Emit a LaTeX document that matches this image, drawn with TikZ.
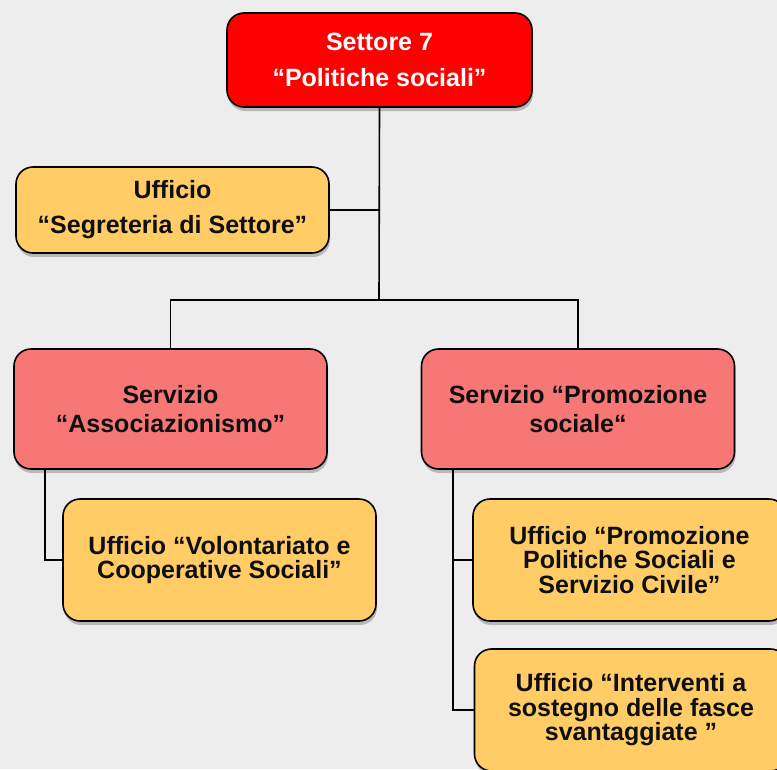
\documentclass[tikz,border=0pt]{standalone}
\usepackage{fontspec}
\setmainfont{Liberation Sans}
\usepackage{tikz}
\usetikzlibrary{shadows}
\definecolor{orgred}{RGB}{255, 0, 0}
\definecolor{orgsalmon}{RGB}{247, 119, 119}
\definecolor{orgyellow}{RGB}{255, 204, 102}
\definecolor{orgbg}{RGB}{237, 237, 237}
\definecolor{orgtext}{RGB}{15, 15, 15}
\tikzset{
    orgbox/.style={rectangle, rounded corners=17pt, draw=black, line width=1.6pt, align=center, inner sep=2pt, text=orgtext, minimum width=313pt, minimum height=122pt, drop shadow={shadow xshift=1pt, shadow yshift=-4pt, fill=black, opacity=0.22}},
    settbox/.style={orgbox, fill=orgred, text=white, minimum width=305pt, minimum height=94pt, font=\bfseries\fontsize{25}{36}\selectfont},
    segrbox/.style={orgbox, fill=orgyellow, minimum height=86pt, font=\bfseries\fontsize{25}{35}\selectfont},
    servbox/.style={orgbox, fill=orgsalmon, minimum height=120pt, font=\bfseries\fontsize{25}{28.5}\selectfont},
    uffbox/.style={orgbox, fill=orgyellow, font=\bfseries\fontsize{25}{24.5}\selectfont},
    conn/.style={line width=1.6pt, draw=black}
}
\begin{document}
\begin{tikzpicture}[x=1pt, y=-1pt]
    \fill[orgbg] (0,0) rectangle (777,769);
    \useasboundingbox (0,0) rectangle (777,769);

    \coordinate (hub) at (379,300);
    \coordinate (aleft) at (45,470);
    \coordinate (pleft) at (453,470);

    % connectors first, boxes on top
    \node[settbox] (settore) at (379.5,60) {Settore 7\\“Politiche sociali”};
    \node[segrbox] (segreteria) at (172.5,210) {Ufficio\\“Segreteria di Settore”};
    \node[servbox] (assoc) at (170.5,409) {Servizio\\“Associazionismo”};
    \node[servbox] (promo) at (578,409) {Servizio “Promozione\\sociale“};
    \node[uffbox] (volont) at (219.5,560) {Ufficio “Volontariato e\\Cooperative Sociali”};
    \node[uffbox] (polit) at (629.5,560) {Ufficio “Promozione\\Politiche Sociali e\\Servizio Civile”};
    \node[uffbox] (interv) at (631,710) {Ufficio “Interventi a\\sostegno delle fasce\\svantaggiate ”};

    \draw[conn] (settore.south) -- (hub);
    \draw[conn] (settore.south |- segreteria.east) -- (segreteria.east);
    \draw[conn] (assoc.north) |- (hub) -| (promo.north);
    \draw[conn] (aleft) |- (volont.west);
    \draw[conn] (pleft) |- (polit.west);
    \draw[conn] (pleft) |- (interv.west);
\end{tikzpicture}
\end{document}
